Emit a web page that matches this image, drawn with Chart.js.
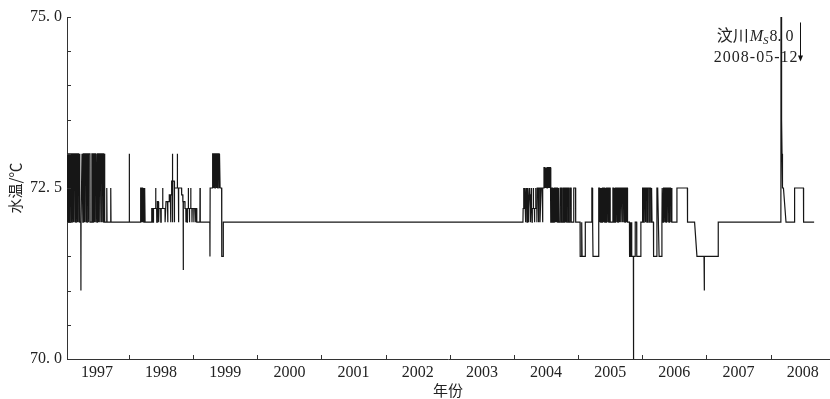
<!DOCTYPE html>
<html>
<head>
<meta charset="utf-8">
<script src="https://cdn.jsdelivr.net/npm/chart.js@4.4.7/dist/chart.umd.min.js"></script>
<style>
  html, body { margin: 0; padding: 0; background: #ffffff; }
  #wrap { width: 830px; height: 399px; position: relative; }
</style>
</head>
<body>
<div id="wrap"><canvas id="tempChart"></canvas></div>
<script>
// tick labels
const yearLabels = ["1997", "1998", "1999", "2000", "2001", "2002", "2003", "2004", "2005", "2006", "2007", "2008"];
const yearBoundaries = [1998, 1999, 2000, 2001, 2002, 2003, 2004, 2005, 2006, 2007, 2008];
const yTickValues = [70, 72.5, 75];
const yTickLabels = ["70. 0", "72. 5", "75. 0"];

// water temperature readings, [decimal year, °C]
const wave1997to1999 = [
  [1997.034, 73.0], [1997.046, 73.0], [1997.048, 72.0], [1997.054, 72.0], [1997.056, 73.0], [1997.066, 73.0],
  [1997.068, 72.0], [1997.072, 72.0], [1997.074, 73.0], [1997.086, 73.0], [1997.088, 72.0], [1997.093, 72.0],
  [1997.095, 73.0], [1997.106, 73.0], [1997.108, 72.0], [1997.112, 72.0], [1997.114, 73.0], [1997.128, 73.0],
  [1997.130, 72.0], [1997.134, 72.0], [1997.136, 73.0], [1997.150, 73.0], [1997.152, 72.0], [1997.156, 72.0],
  [1997.158, 73.0], [1997.170, 73.0], [1997.172, 72.0], [1997.176, 72.0], [1997.178, 73.0], [1997.192, 73.0],
  [1997.194, 72.0], [1997.198, 72.0], [1997.200, 73.0], [1997.214, 73.0], [1997.216, 72.0], [1997.220, 72.0],
  [1997.222, 73.0], [1997.232, 73.0], [1997.234, 72.0], [1997.249, 72.0], [1997.251, 71.0], [1997.253, 72.0],
  [1997.266, 72.0], [1997.268, 73.0], [1997.280, 73.0], [1997.282, 72.0], [1997.286, 72.0], [1997.288, 73.0],
  [1997.300, 73.0], [1997.302, 72.0], [1997.306, 72.0], [1997.308, 73.0], [1997.322, 73.0], [1997.324, 72.0],
  [1997.328, 72.0], [1997.330, 73.0], [1997.344, 73.0], [1997.346, 72.0], [1997.350, 72.0], [1997.352, 73.0],
  [1997.366, 73.0], [1997.368, 72.0], [1997.372, 72.0], [1997.374, 73.0], [1997.392, 73.0], [1997.394, 72.0],
  [1997.420, 72.0], [1997.422, 73.0], [1997.436, 73.0], [1997.438, 72.0], [1997.442, 72.0], [1997.444, 73.0],
  [1997.456, 73.0], [1997.458, 72.0], [1997.462, 72.0], [1997.464, 73.0], [1997.478, 73.0], [1997.480, 72.0],
  [1997.484, 72.0], [1997.486, 73.0], [1997.500, 73.0], [1997.502, 72.0], [1997.506, 72.0], [1997.508, 73.0],
  [1997.520, 73.0], [1997.522, 72.0], [1997.526, 72.0], [1997.528, 73.0], [1997.542, 73.0], [1997.544, 72.0],
  [1997.548, 72.0], [1997.550, 73.0], [1997.564, 73.0], [1997.566, 72.0], [1997.570, 72.0], [1997.572, 73.0],
  [1997.586, 73.0], [1997.588, 72.0], [1997.592, 72.0], [1997.594, 73.0], [1997.606, 73.0], [1997.608, 72.0],
  [1997.612, 72.0], [1997.614, 73.0], [1997.624, 73.0], [1997.626, 72.0],
  [1997.652, 72.0], [1997.654, 72.5], [1997.658, 72.0], [1997.714, 72.0], [1997.716, 72.5], [1997.720, 72.0],
  [1998.002, 72.0], [1998.004, 73.0], [1998.008, 72.0],
  [1998.180, 72.0], [1998.182, 72.5], [1998.192, 72.5], [1998.194, 72.0], [1998.198, 72.0], [1998.200, 72.5],
  [1998.212, 72.5], [1998.214, 72.0], [1998.218, 72.0], [1998.220, 72.5], [1998.232, 72.5], [1998.234, 72.0],
  [1998.238, 72.0], [1998.240, 72.5], [1998.249, 72.5], [1998.251, 72.0],
  [1998.353, 72.0], [1998.355, 72.2], [1998.372, 72.2], [1998.374, 72.0], [1998.380, 72.0], [1998.382, 72.2],
  [1998.414, 72.2], [1998.416, 72.5], [1998.419, 72.2], [1998.431, 72.2], [1998.433, 72.0], [1998.440, 72.0],
  [1998.442, 72.3], [1998.457, 72.3], [1998.459, 72.0], [1998.466, 72.0], [1998.468, 72.2], [1998.494, 72.2],
  [1998.496, 72.0], [1998.500, 72.0], [1998.502, 72.2], [1998.523, 72.2], [1998.525, 72.5], [1998.528, 72.2],
  [1998.561, 72.2], [1998.563, 72.0], [1998.575, 72.0], [1998.577, 72.3], [1998.600, 72.3], [1998.602, 72.0],
  [1998.606, 72.0], [1998.608, 72.3], [1998.626, 72.3], [1998.628, 72.4], [1998.645, 72.4], [1998.647, 72.0],
  [1998.652, 72.0], [1998.654, 72.4], [1998.663, 72.4], [1998.665, 72.6], [1998.673, 72.6], [1998.675, 73.0],
  [1998.679, 72.0], [1998.683, 72.6], [1998.705, 72.6], [1998.707, 72.0], [1998.711, 72.5], [1998.751, 72.5],
  [1998.753, 73.0], [1998.757, 72.5], [1998.770, 72.5], [1998.772, 72.0], [1998.776, 72.5], [1998.819, 72.5],
  [1998.821, 72.4], [1998.838, 72.4], [1998.840, 72.3], [1998.844, 72.3], [1998.846, 71.3], [1998.848, 72.3],
  [1998.871, 72.3], [1998.873, 72.2], [1998.886, 72.2], [1998.888, 72.0], [1998.892, 72.2], [1998.904, 72.2],
  [1998.906, 72.0], [1998.910, 72.2], [1998.922, 72.2], [1998.924, 72.5], [1998.928, 72.2], [1998.940, 72.2],
  [1998.942, 72.0], [1998.946, 72.2], [1998.960, 72.2], [1998.962, 72.5], [1998.966, 72.2], [1998.980, 72.2],
  [1998.982, 72.0], [1998.986, 72.2], [1999.010, 72.2], [1999.012, 72.0], [1999.016, 72.2], [1999.036, 72.2],
  [1999.038, 72.0], [1999.042, 72.2], [1999.055, 72.2], [1999.057, 72.0],
  [1999.105, 72.0], [1999.107, 72.5], [1999.111, 72.0],
  [1999.260, 72.0], [1999.262, 71.5], [1999.265, 72.5], [1999.302, 72.5], [1999.304, 73.0], [1999.316, 73.0],
  [1999.318, 72.5], [1999.322, 72.5], [1999.324, 73.0], [1999.338, 73.0], [1999.340, 72.5], [1999.344, 72.5],
  [1999.346, 73.0], [1999.360, 73.0], [1999.362, 72.5], [1999.366, 72.5], [1999.368, 73.0], [1999.382, 73.0],
  [1999.384, 72.5], [1999.388, 72.5], [1999.390, 73.0], [1999.404, 73.0], [1999.406, 72.5], [1999.408, 73.0],
  [1999.418, 73.0], [1999.420, 72.5], [1999.444, 72.5], [1999.446, 71.5], [1999.468, 71.5], [1999.470, 72.0]
];

const wave2004to2006 = [
  [2004.140, 72.0], [2004.143, 72.2], [2004.150, 72.2], [2004.152, 72.5], [2004.156, 72.2], [2004.162, 72.2],
  [2004.164, 72.5], [2004.168, 72.4], [2004.172, 72.5], [2004.176, 72.2], [2004.180, 72.0], [2004.184, 72.2],
  [2004.190, 72.5], [2004.194, 72.4], [2004.200, 72.5], [2004.204, 72.0], [2004.210, 72.2], [2004.216, 72.5],
  [2004.220, 72.2], [2004.226, 72.0], [2004.230, 72.2], [2004.238, 72.5], [2004.242, 72.4], [2004.250, 72.4],
  [2004.252, 72.2], [2004.258, 72.0], [2004.262, 72.2], [2004.270, 72.5], [2004.274, 72.2], [2004.282, 72.0],
  [2004.286, 72.2], [2004.300, 72.2], [2004.302, 72.5], [2004.306, 72.2], [2004.318, 72.2], [2004.320, 72.0],
  [2004.324, 72.2], [2004.336, 72.2], [2004.338, 72.5], [2004.342, 72.2], [2004.356, 72.2], [2004.358, 72.0],
  [2004.362, 72.5], [2004.378, 72.5], [2004.380, 72.0], [2004.386, 72.0], [2004.388, 72.5], [2004.404, 72.5],
  [2004.406, 72.0], [2004.420, 72.0], [2004.422, 72.5], [2004.440, 72.5], [2004.442, 72.0], [2004.450, 72.0],
  [2004.452, 72.5],
  [2004.466, 72.5], [2004.468, 72.8], [2004.478, 72.8], [2004.480, 72.5], [2004.484, 72.8], [2004.496, 72.8],
  [2004.498, 72.5], [2004.502, 72.8], [2004.514, 72.8], [2004.516, 72.5], [2004.520, 72.8], [2004.534, 72.8],
  [2004.536, 72.5], [2004.540, 72.8], [2004.552, 72.8], [2004.554, 72.5], [2004.558, 72.8], [2004.568, 72.8],
  [2004.570, 72.5],
  [2004.575, 72.5], [2004.577, 72.0], [2004.585, 72.0], [2004.587, 72.5], [2004.600, 72.5], [2004.602, 72.0],
  [2004.610, 72.0], [2004.612, 72.5], [2004.618, 72.5], [2004.620, 72.0], [2004.626, 72.0], [2004.628, 72.5],
  [2004.640, 72.5], [2004.642, 72.0], [2004.648, 72.0], [2004.650, 72.5], [2004.658, 72.5], [2004.660, 72.0],
  [2004.664, 72.0], [2004.666, 72.5], [2004.680, 72.5], [2004.682, 72.0], [2004.690, 72.0], [2004.692, 72.5],
  [2004.700, 72.5], [2004.702, 72.0], [2004.720, 72.0], [2004.722, 72.5], [2004.740, 72.5], [2004.742, 72.0],
  [2004.760, 72.0], [2004.762, 72.5], [2004.775, 72.5], [2004.777, 72.0], [2004.790, 72.0], [2004.792, 72.5],
  [2004.800, 72.5], [2004.802, 72.0], [2004.808, 72.0], [2004.810, 72.5], [2004.822, 72.5], [2004.824, 72.0],
  [2004.830, 72.0], [2004.832, 72.5], [2004.850, 72.5], [2004.852, 72.0], [2004.870, 72.0], [2004.872, 72.5],
  [2004.890, 72.5], [2004.892, 72.0], [2004.930, 72.0], [2004.932, 72.5], [2004.960, 72.5], [2004.962, 72.0],
  [2005.030, 72.0], [2005.032, 71.5], [2005.050, 71.5], [2005.052, 72.0], [2005.060, 72.0], [2005.062, 71.5],
  [2005.110, 71.5], [2005.112, 72.0], [2005.212, 72.0], [2005.214, 72.5], [2005.220, 72.5], [2005.222, 72.0],
  [2005.230, 72.0], [2005.232, 71.5], [2005.316, 71.5], [2005.318, 72.0],
  [2005.322, 72.0], [2005.324, 72.5], [2005.334, 72.5], [2005.336, 72.0], [2005.340, 72.0], [2005.342, 72.5],
  [2005.352, 72.5], [2005.354, 72.0], [2005.358, 72.0], [2005.360, 72.5], [2005.372, 72.5], [2005.374, 72.0],
  [2005.378, 72.0], [2005.380, 72.5], [2005.392, 72.5], [2005.394, 72.0], [2005.398, 72.0], [2005.400, 72.5],
  [2005.414, 72.5], [2005.416, 72.0], [2005.420, 72.0], [2005.422, 72.5], [2005.434, 72.5], [2005.436, 72.0],
  [2005.440, 72.0], [2005.442, 72.5], [2005.456, 72.5], [2005.458, 72.0], [2005.462, 72.0], [2005.464, 72.5],
  [2005.478, 72.5], [2005.480, 72.0], [2005.484, 72.0], [2005.486, 72.5], [2005.498, 72.5], [2005.500, 72.0],
  [2005.540, 72.0], [2005.542, 72.5], [2005.554, 72.5], [2005.556, 72.0], [2005.560, 72.0], [2005.562, 72.5],
  [2005.574, 72.5], [2005.576, 72.0], [2005.580, 72.0], [2005.582, 72.5], [2005.596, 72.5], [2005.598, 72.0],
  [2005.602, 72.0], [2005.604, 72.5], [2005.618, 72.5], [2005.620, 72.0], [2005.624, 72.0], [2005.626, 72.5],
  [2005.640, 72.5], [2005.642, 72.0], [2005.646, 72.0], [2005.648, 72.5], [2005.662, 72.5], [2005.664, 72.0],
  [2005.668, 72.0], [2005.670, 72.5], [2005.684, 72.5], [2005.686, 72.0], [2005.690, 72.0], [2005.692, 72.5],
  [2005.706, 72.5], [2005.708, 72.0], [2005.712, 72.0], [2005.714, 72.5], [2005.728, 72.5], [2005.730, 72.0],
  [2005.734, 72.0], [2005.736, 72.5], [2005.750, 72.5], [2005.752, 72.0], [2005.756, 72.0], [2005.758, 72.5],
  [2005.768, 72.5], [2005.770, 72.0],
  [2005.800, 72.0], [2005.802, 71.5], [2005.812, 71.5], [2005.814, 72.0], [2005.818, 72.0], [2005.820, 71.5],
  [2005.830, 71.5], [2005.832, 72.0], [2005.836, 72.0], [2005.838, 71.5], [2005.861, 71.5], [2005.863, 70.0],
  [2005.865, 71.5], [2005.888, 71.5], [2005.890, 72.0], [2005.912, 72.0], [2005.914, 71.5], [2005.976, 71.5],
  [2005.978, 72.0], [2006.003, 72.0], [2006.005, 72.5],
  [2006.018, 72.5], [2006.020, 72.0], [2006.028, 72.0], [2006.030, 72.5], [2006.045, 72.5], [2006.047, 72.0],
  [2006.053, 72.0], [2006.055, 72.5], [2006.070, 72.5], [2006.072, 72.0], [2006.078, 72.0], [2006.080, 72.5],
  [2006.100, 72.5], [2006.102, 72.0], [2006.108, 72.0], [2006.110, 72.5], [2006.130, 72.5], [2006.132, 72.0],
  [2006.138, 72.0], [2006.140, 72.5], [2006.150, 72.5], [2006.152, 72.0], [2006.174, 72.0], [2006.176, 71.5],
  [2006.226, 71.5], [2006.228, 72.5], [2006.240, 72.5], [2006.262, 71.5], [2006.304, 71.5], [2006.306, 72.0],
  [2006.310, 72.5], [2006.322, 72.5], [2006.324, 72.0], [2006.330, 72.0], [2006.332, 72.5], [2006.345, 72.5],
  [2006.347, 72.0], [2006.352, 72.0], [2006.354, 72.5], [2006.368, 72.5], [2006.370, 72.0], [2006.375, 72.0],
  [2006.377, 72.5], [2006.392, 72.5], [2006.394, 72.0], [2006.398, 72.0], [2006.400, 72.5], [2006.415, 72.5],
  [2006.417, 72.0], [2006.422, 72.0], [2006.424, 72.5], [2006.440, 72.5], [2006.442, 72.0], [2006.446, 72.0],
  [2006.448, 72.5], [2006.460, 72.5], [2006.462, 72.0],
  [2006.538, 72.0], [2006.540, 72.5], [2006.703, 72.5], [2006.705, 72.0], [2006.815, 72.0], [2006.852, 71.5],
  [2006.962, 71.5], [2006.964, 71.0], [2006.968, 71.0], [2006.970, 71.5], [2007.182, 71.5], [2007.184, 72.0]
];

const wave2007to2008 = [
  [2008.160, 72.0], [2008.162, 75.0], [2008.166, 74.0], [2008.170, 74.0], [2008.172, 73.5], [2008.176, 73.5],
  [2008.178, 73.0], [2008.184, 73.0], [2008.186, 72.5], [2008.200, 72.5], [2008.240, 72.0], [2008.372, 72.0],
  [2008.374, 72.5], [2008.512, 72.5], [2008.514, 72.0], [2008.678, 72.0]
];

// Wenchuan Ms8.0 marker (arrow, in data units)
const quakeArrowYear = 2008.46;
const quakeArrowTop = 74.92;
const quakeArrowTip = 74.35;

const axisColor = "#333333";
const lineColor = "#161616";
const serifFont = "'Liberation Serif', 'DejaVu Serif', 'Noto Sans CJK SC', serif";
const cjkFont = "'Noto Sans CJK SC', 'Liberation Serif', sans-serif";

const points = wave1997to1999.concat(wave2004to2006, wave2007to2008).map(([x, y]) => ({ x, y }));

const markerPlugin = {
  id: "markerPlugin",
  afterDraw(chart) {
    const { ctx, chartArea, scales } = chart;
    const xScale = scales.x;
    const yScale = scales.y;
    ctx.save();

    // inward tick marks
    ctx.strokeStyle = axisColor;
    ctx.lineWidth = 1;
    ctx.beginPath();
    yearBoundaries.forEach((year) => {
      const px = Math.round(xScale.getPixelForValue(year)) + 0.5;
      ctx.moveTo(px, chartArea.bottom);
      ctx.lineTo(px, chartArea.bottom - 4);
    });
    yScale.ticks.forEach((tick) => {
      const py = Math.round(yScale.getPixelForValue(tick.value)) + 0.5;
      ctx.moveTo(chartArea.left, py);
      ctx.lineTo(chartArea.left + 4, py);
    });
    ctx.stroke();

    // earthquake arrow
    const ax = Math.round(xScale.getPixelForValue(quakeArrowYear)) + 0.5;
    const aTop = yScale.getPixelForValue(quakeArrowTop);
    const aTip = yScale.getPixelForValue(quakeArrowTip);
    ctx.strokeStyle = "#111111";
    ctx.fillStyle = "#111111";
    ctx.beginPath();
    ctx.moveTo(ax, aTop);
    ctx.lineTo(ax, aTip - 5);
    ctx.stroke();
    ctx.beginPath();
    ctx.moveTo(ax - 2.5, aTip - 6);
    ctx.lineTo(ax + 2.5, aTip - 6);
    ctx.lineTo(ax, aTip);
    ctx.closePath();
    ctx.fill();

    // label text
    ctx.fillStyle = "#222222";
    ctx.textBaseline = "alphabetic";
    ctx.textAlign = "left";
    const pieces = [
      { text: "汶川", font: "16px " + cjkFont, dy: 0, gap: 1 },
      { text: "M", font: "italic 16px " + serifFont, dy: 0, gap: 0 },
      { text: "S", font: "italic 11px " + serifFont, dy: 3, gap: 1 },
      { text: "8. 0", font: "16px " + serifFont, dy: 0, gap: 0 }
    ];
    let total = 0;
    pieces.forEach((p) => {
      ctx.font = p.font;
      p.w = ctx.measureText(p.text).width + p.gap;
      total += p.w;
    });
    let cx = ax - 7 - total;
    const base1 = aTop + 19;
    pieces.forEach((p) => {
      ctx.font = p.font;
      ctx.fillText(p.text, cx, base1 + p.dy);
      cx += p.w;
    });
    ctx.font = "16px " + serifFont;
    ctx.letterSpacing = "1px";
    ctx.textAlign = "right";
    ctx.fillText("2008-05-12", ax - 2, base1 + 21);
    ctx.restore();
  }
};

new Chart(document.getElementById("tempChart"), {
  type: "line",
  data: {
    datasets: [{
      label: "水温",
      data: points,
      borderColor: lineColor,
      borderWidth: 1.2,
      pointRadius: 0,
      tension: 0,
      fill: false
    }]
  },
  options: {
    responsive: true,
    maintainAspectRatio: false,
    animation: false,
    parsing: false,
    layout: { padding: { top: 17, right: 1, left: 0, bottom: 0 } },
    plugins: {
      legend: { display: false },
      tooltip: { enabled: false }
    },
    scales: {
      x: {
        type: "linear",
        min: 1997.034,
        max: 2008.91,
        afterBuildTicks(scale) {
          const ticks = [];
          yearLabels.forEach((label, i) => ticks.push({ value: 1997.5 + i }));
          scale.ticks = ticks;
        },
        afterFit(scale) { scale.height = 40; },
        grid: { display: false, drawTicks: false },
        border: { display: true, color: axisColor, width: 1 },
        ticks: {
          autoSkip: false,
          maxRotation: 0,
          padding: 4,
          color: "#222222",
          font: { family: serifFont, size: 16 },
          callback: (value) => yearLabels[Math.round(value - 1997.5)] || ""
        },
        title: {
          display: true,
          text: "年份",
          color: "#222222",
          font: { family: cjkFont, size: 15 },
          padding: { top: 0, bottom: 0 }
        }
      },
      y: {
        type: "linear",
        min: 70,
        max: 75,
        afterFit(scale) { scale.width = 67; },
        grid: { display: false, drawTicks: false },
        border: { display: true, color: axisColor, width: 1 },
        ticks: {
          stepSize: 0.5,
          autoSkip: false,
          padding: 5,
          color: "#222222",
          font: { family: serifFont, size: 16 },
          callback: (value) => {
            const i = yTickValues.indexOf(value);
            return i >= 0 ? yTickLabels[i] : "";
          }
        },
        title: {
          display: true,
          text: "水温/℃",
          color: "#222222",
          font: { family: cjkFont, size: 15 },
          padding: { top: 6, bottom: 0 }
        }
      }
    }
  },
  plugins: [markerPlugin]
});
</script>
</body>
</html>
